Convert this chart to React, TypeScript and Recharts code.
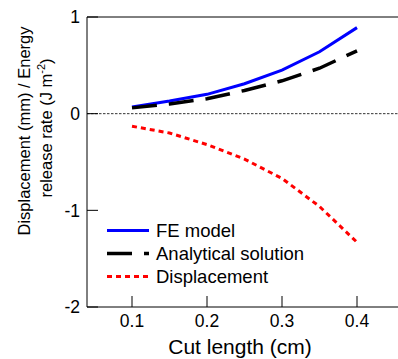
import {
  LineChart,
  Line,
  XAxis,
  YAxis,
  ReferenceLine,
  Legend,
  Label,
} from "recharts";

// values
const cutLength = [0.1, 0.15, 0.2, 0.25, 0.3, 0.35, 0.4];
const feModel = [0.07, 0.13, 0.2, 0.31, 0.45, 0.64, 0.89];
const analytical = [0.06, 0.1, 0.155, 0.24, 0.34, 0.47, 0.65];
const displacement = [-0.13, -0.2, -0.32, -0.47, -0.67, -0.96, -1.33];

const xTicks = [0.1, 0.2, 0.3, 0.4];
const yTicks = [1, 0, -1, -2];

const data = cutLength.map((x, i) => ({
  x,
  fe: feModel[i],
  analytical: analytical[i],
  disp: displacement[i],
}));

const FONT = "'Liberation Sans', Arial, Helvetica, sans-serif";

const series = [
  { key: "fe", name: "FE model", color: "#0000ff", width: 3, dash: undefined as string | undefined },
  { key: "analytical", name: "Analytical solution", color: "#000000", width: 3.5, dash: "25 12" },
  { key: "disp", name: "Displacement", color: "#ff0000", width: 3, dash: "5 4" },
];

function LegendBox() {
  return (
    <div style={{ fontFamily: FONT, fontSize: 18.5, color: "#000" }}>
      {series.map((s) => (
        <div
          key={s.key}
          style={{ display: "flex", alignItems: "center", height: 23, whiteSpace: "nowrap" }}
        >
          <svg width={49} height={23} style={{ display: "block" }}>
            <line
              x1={0}
              x2={42}
              y1={11.5}
              y2={11.5}
              stroke={s.color}
              strokeWidth={s.width}
              strokeDasharray={s.dash}
            />
          </svg>
          <span>{s.name}</span>
        </div>
      ))}
    </div>
  );
}

function YLabel() {
  return (
    <g fontFamily={FONT} fontSize={16.5} fill="#000">
      <text transform="translate(29.5,131) rotate(-90)" textAnchor="middle">
        Displacement (mm) / Energy
      </text>
      <text transform="translate(51.5,128) rotate(-90)" textAnchor="middle">
        release rate (J m
        <tspan fontSize={11} dy={-7}>
          -2
        </tspan>
        <tspan dy={7}>)</tspan>
      </text>
    </g>
  );
}

export default function App() {
  return (
    <div
      style={{
        position: "absolute",
        left: 0,
        top: 0,
        width: 398,
        height: 359,
        overflow: "hidden",
        background: "#fff",
      }}
    >
      <LineChart
        width={412}
        height={359}
        data={data}
        margin={{ top: 7, right: 0, bottom: 0, left: 47 }}
      >
        <XAxis
          dataKey="x"
          type="number"
          domain={[0.04, 0.46]}
          ticks={xTicks}
          allowDataOverflow
          height={52}
          stroke="#000"
          tickSize={-11}
          tickMargin={19}
          tick={{ fill: "#000", fontSize: 17.5, fontFamily: FONT }}
        >
          <Label
            value="Cut length (cm)"
            position="insideBottom"
            offset={5}
            dx={-4.5}
            style={{ fontSize: 21, fontFamily: FONT, fill: "#000" }}
          />
        </XAxis>
        <XAxis
          xAxisId="top"
          orientation="top"
          dataKey="x"
          type="number"
          domain={[0.04, 0.46]}
          ticks={xTicks}
          allowDataOverflow
          height={10}
          stroke="#000"
          tickSize={-11}
          tick={false}
        />
        <YAxis
          type="number"
          domain={[-2, 1]}
          ticks={yTicks}
          allowDataOverflow
          width={40}
          stroke="#000"
          tickSize={-11}
          tickMargin={18}
          tick={{ fill: "#000", fontSize: 17.5, fontFamily: FONT }}
        />
        <YAxis
          yAxisId="right"
          orientation="right"
          type="number"
          domain={[-2, 1]}
          ticks={yTicks}
          allowDataOverflow
          width={10}
          stroke="#000"
          tickSize={-11}
          tick={false}
        />
        <ReferenceLine y={0} stroke="#333" strokeWidth={1} strokeDasharray="2.5 1.5" />
        {series.map((s) => (
          <Line
            key={s.key}
            type="linear"
            dataKey={s.key}
            name={s.name}
            stroke={s.color}
            strokeWidth={s.width}
            strokeDasharray={s.dash}
            dot={false}
            activeDot={false}
            isAnimationActive={false}
          />
        ))}
        <Legend
          layout="vertical"
          align="center"
          verticalAlign="middle"
          content={() => <LegendBox />}
          wrapperStyle={{ left: 107, top: 219, width: "auto" }}
        />
        <YLabel />
      </LineChart>
    </div>
  );
}
